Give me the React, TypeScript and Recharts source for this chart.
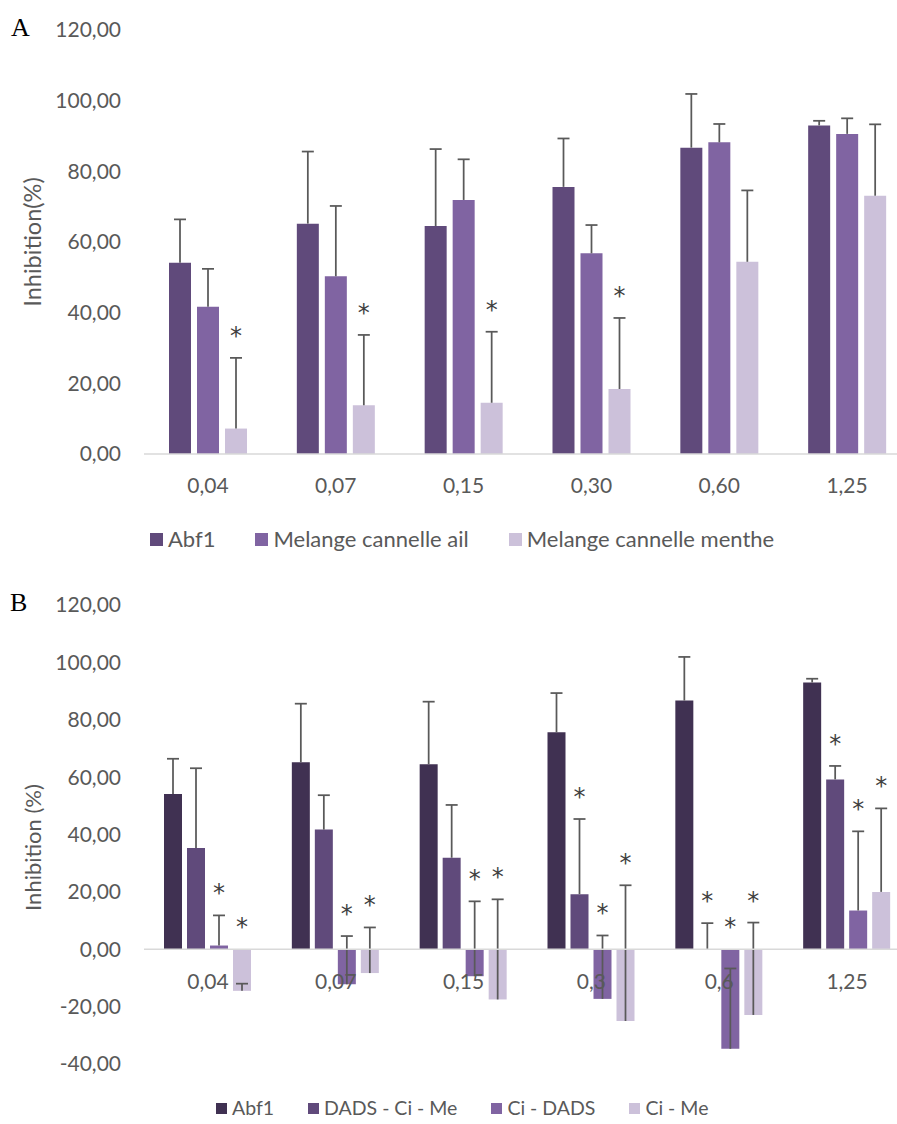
import React from "react";
import { Bar, BarChart, Label, Legend, ReferenceLine, XAxis, YAxis } from "recharts";

// concentrations
const catsA = ["0,04", "0,07", "0,15", "0,30", "0,60", "1,25"];
const catsB = ["0,04", "0,07", "0,15", "0,3", "0,6", "1,25"];

// Abf1 (same in both panels)
const abf1 = [54.1, 65.2, 64.5, 75.6, 86.7, 93.0];
const abf1Err = [12.3, 20.4, 21.8, 13.7, 15.2, 1.3];

// panel A
const ailA = [41.7, 50.3, 71.9, 56.8, 88.2, 90.6];
const ailErrA = [10.7, 19.9, 11.5, 8.0, 5.2, 4.4];
const mentheA = [7.2, 13.8, 14.5, 18.4, 54.4, 73.1];
const mentheErrA = [20.0, 19.9, 20.1, 20.1, 20.2, 20.2];
const mentheStarA = [true, true, true, true, false, false];

// panel B
const dadsB = [35.3, 41.7, 31.9, 19.2, 0, 59.2];
const dadsErrB = [27.8, 12.0, 18.4, 26.2, 9.1, 4.7];
const dadsStarB = [false, false, false, true, true, true];
const ciDadsB = [1.3, -12.2, -9.4, -17.3, -34.7, 13.5];
const ciDadsErrB = [10.5, 16.8, 26.1, 22.1, 28.0, 27.6];
const ciDadsStarB = [true, true, true, true, true, true];
const ciMeB = [-14.5, -8.3, -17.5, -25.0, -22.9, 20.0];
const ciMeErrB = [2.5, 15.9, 34.9, 47.3, 32.2, 29.1];
const ciMeStarB = [true, true, true, true, true, true];

const namesA = ["Abf1", "Melange cannelle ail", "Melange cannelle menthe"];
const namesB = ["Abf1", "DADS - Ci - Me", "Ci - DADS", "Ci - Me"];

const ticksA = [0, 20, 40, 60, 80, 100, 120];
const ticksB = [-40, -20, 0, 20, 40, 60, 80, 100, 120];

const dataA = catsA.map((cat, i) => ({
  cat,
  abf1: abf1[i], abf1Err: abf1Err[i], abf1Star: false,
  ail: ailA[i], ailErr: ailErrA[i], ailStar: false,
  menthe: mentheA[i], mentheErr: mentheErrA[i], mentheStar: mentheStarA[i],
}));

const dataB = catsB.map((cat, i) => ({
  cat,
  abf1: abf1[i], abf1Err: abf1Err[i], abf1Star: false,
  dads: dadsB[i], dadsErr: dadsErrB[i], dadsStar: dadsStarB[i],
  ciDads: ciDadsB[i], ciDadsErr: ciDadsErrB[i], ciDadsStar: ciDadsStarB[i],
  ciMe: ciMeB[i], ciMeErr: ciMeErrB[i], ciMeStar: ciMeStarB[i],
}));

const FONT = "Lato, 'Open Sans', sans-serif";
const TXT = "#595959";
const ERR = "#595959";
const fmt = (v: number) => v.toFixed(2).replace(".", ",");

// transparent stacked segment from value to value+err: draws the whisker + star
function whisker(key: string) {
  return (props: any) => {
    const { x, y, width, height, payload } = props;
    if (x == null || y == null || !payload) return <g />;
    const cx = x + width / 2;
    const top = y;
    const bottom = y + height;
    const v = payload[key];
    const e = payload[key + "Err"];
    let starY = top;
    if (v < 0 && e > 0) {
      const ppu = height / e;
      starY = Math.min(top, bottom + v * ppu);
    }
    return (
      <g>
        <line x1={cx} y1={bottom} x2={cx} y2={top} stroke={ERR} strokeWidth={1.75} />
        <line x1={cx - 6} y1={top} x2={cx + 6} y2={top} stroke={ERR} strokeWidth={1.75} />
        {payload[key + "Star"] && (
          <text x={cx} y={starY - 14} textAnchor="middle" fontSize={24} fill="#404040" fontFamily="'DejaVu Sans', sans-serif">
            *
          </text>
        )}
      </g>
    );
  };
}

function yTitle(text: string, fontSize: number, shift: number) {
  return (props: any) => {
    const vb = props.viewBox;
    const cy = vb.y + vb.height / 2 + shift;
    return (
      <text
        transform={`translate(${vb.x + 32}, ${cy}) rotate(-90)`}
        textAnchor="middle"
        dominantBaseline="central"
        fill={TXT}
        fontSize={fontSize}
        fontFamily={FONT}
      >
        {text}
      </text>
    );
  };
}

function legendContent(names: string[], fontSize: number, sq: number, gap: number) {
  return (props: any) => {
    const items = (props.payload || [])
      .filter((p: any) => p.type !== "none" && names.includes(p.value))
      .sort((a: any, b: any) => names.indexOf(a.value) - names.indexOf(b.value));
    return (
      <div style={{ display: "flex", alignItems: "center", gap, fontFamily: FONT, whiteSpace: "nowrap" }}>
        {items.map((p: any) => (
          <span key={p.value} style={{ display: "flex", alignItems: "center" }}>
            <span style={{ width: sq, height: sq, background: p.color, marginRight: 5, display: "inline-block" }} />
            <span style={{ color: TXT, fontSize, lineHeight: "24px" }}>{p.value}</span>
          </span>
        ))}
      </div>
    );
  };
}

function series(key: string, name: string, color: string) {
  return [
    <Bar key={key} dataKey={key} name={name} stackId={key} fill={color} isAnimationActive={false} />,
    <Bar
      key={key + "Err"}
      dataKey={key + "Err"}
      stackId={key}
      fill="transparent"
      legendType="none"
      shape={whisker(key)}
      isAnimationActive={false}
    />,
  ];
}

const tickStyle = { fill: TXT, fontSize: 21, fontFamily: FONT };

function CatTickB(props: any) {
  const { x, y, payload } = props;
  return (
    <text x={x} y={y - 84} textAnchor="middle" dominantBaseline="central" fill={TXT} fontSize={21} fontFamily={FONT}>
      {payload.value}
    </text>
  );
}

export default function App() {
  return (
    <div
      style={{
        position: "absolute",
        left: 0,
        top: 0,
        width: 897,
        height: 1124,
        overflow: "hidden",
        background: "#fff",
      }}
    >
      <div style={{ position: "absolute", left: 11, top: 15, fontFamily: "'Liberation Serif', serif", fontSize: 26, lineHeight: "26px" }}>
        A
      </div>
      <div style={{ position: "absolute", left: 10, top: 590, fontFamily: "'Liberation Serif', serif", fontSize: 26, lineHeight: "26px" }}>
        B
      </div>

      <div style={{ position: "absolute", left: 0, top: 0 }}>
        <BarChart
          width={930}
          height={560}
          data={dataA}
          margin={{ top: 30, right: 19, bottom: 66, left: 0 }}
          barSize={22}
          barGap={6}
          stackOffset="none"
        >
          <XAxis
            dataKey="cat"
            height={40}
            interval={0}
            axisLine={{ stroke: "#d9d9d9", strokeWidth: 1.5 }}
            tickLine={false}
            tickSize={0}
            tickMargin={24}
            tick={tickStyle}
          />
          <YAxis
            width={144}
            domain={[0, 120]}
            ticks={ticksA}
            tickFormatter={fmt}
            axisLine={false}
            tickLine={false}
            tickSize={0}
            tickMargin={23}
            tick={tickStyle}
          >
            <Label content={yTitle("Inhibition(%)", 23.5, 0)} />
          </YAxis>
          {series("abf1", "Abf1", "#604A7B")}
          {series("ail", "Melange cannelle ail", "#8064A2")}
          {series("menthe", "Melange cannelle menthe", "#CCC1DA")}
          <Legend
            verticalAlign="middle"
            align="center"
            content={legendContent(namesA, 22, 13, 40)}
            wrapperStyle={{ top: 527, left: 150, width: "auto" }}
          />
        </BarChart>
      </div>

      <div style={{ position: "absolute", left: 0, top: 560 }}>
        <BarChart
          width={930}
          height={564}
          data={dataB}
          margin={{ top: 45, right: 19, bottom: 30, left: 0 }}
          barSize={18}
          barGap={5}
          stackOffset="none"
        >
          <XAxis
            dataKey="cat"
            height={30}
            interval={0}
            axisLine={false}
            tickLine={false}
            tickSize={0}
            tickMargin={0}
            tick={<CatTickB />}
          />
          <YAxis
            width={144}
            domain={[-40, 120]}
            ticks={ticksB}
            tickFormatter={fmt}
            axisLine={false}
            tickLine={false}
            tickSize={0}
            tickMargin={23}
            tick={tickStyle}
          >
            <Label content={yTitle("Inhibition (%)", 22, 13)} />
          </YAxis>
          <ReferenceLine y={0} stroke="#d9d9d9" strokeWidth={1.5} />
          {series("abf1", "Abf1", "#403152")}
          {series("dads", "DADS - Ci - Me", "#604A7B")}
          {series("ciDads", "Ci - DADS", "#8064A2")}
          {series("ciMe", "Ci - Me", "#CCC1DA")}
          <Legend
            verticalAlign="middle"
            align="center"
            content={legendContent(namesB, 19.5, 11, 34)}
            wrapperStyle={{ top: 536, left: 216, width: "auto" }}
          />
        </BarChart>
      </div>
    </div>
  );
}
